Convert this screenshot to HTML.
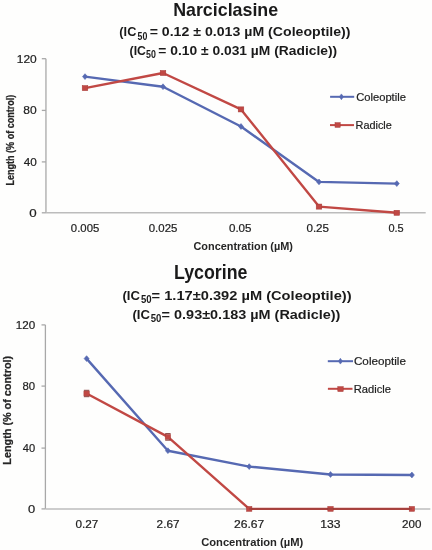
<!DOCTYPE html>
<html><head><meta charset="utf-8"><style>
html,body{margin:0;padding:0;background:#fefefd;}
svg{display:block;font-family:"Liberation Sans",sans-serif;will-change:transform;}
</style></head><body>
<svg width="432" height="550" viewBox="0 0 432 550">
<rect width="432" height="550" fill="#fefefd"/>
<text transform="translate(173.14,15.70) scale(0.9693,1)" font-size="18.41" font-weight="bold" fill="#1a1a1a">Narciclasine</text>
<text transform="translate(119.36,36.20) scale(0.9774,1)" font-size="13.04" font-weight="bold" fill="#1a1a1a">(IC</text>
<text transform="translate(137.49,39.50) scale(0.8676,1)" font-size="10.14" font-weight="bold" fill="#1a1a1a">50</text>
<text transform="translate(149.63,36.20) scale(1.0850,1)" font-size="13.04" font-weight="bold" fill="#1a1a1a">= 0.12 ± 0.013 µM (Coleoptile))</text>
<text transform="translate(129.59,54.60) scale(0.9203,1)" font-size="13.33" font-weight="bold" fill="#1a1a1a">(IC</text>
<text transform="translate(146.03,57.60) scale(0.8846,1)" font-size="10.00" font-weight="bold" fill="#1a1a1a">50</text>
<text transform="translate(158.35,54.60) scale(1.0372,1)" font-size="13.33" font-weight="bold" fill="#1a1a1a">= 0.10 ± 0.031 µM (Radicle))</text>
<line x1="45.95" y1="58.7" x2="45.95" y2="212.8" stroke="#a8a8a8" stroke-width="1.3"/>
<line x1="41.8" y1="58.7" x2="45.95" y2="58.7" stroke="#a8a8a8" stroke-width="1.3"/>
<line x1="41.8" y1="110.4" x2="45.95" y2="110.4" stroke="#a8a8a8" stroke-width="1.3"/>
<line x1="41.8" y1="161.9" x2="45.95" y2="161.9" stroke="#a8a8a8" stroke-width="1.3"/>
<line x1="41.8" y1="212.8" x2="45.95" y2="212.8" stroke="#a8a8a8" stroke-width="1.3"/>
<line x1="45.95" y1="212.8" x2="425.7" y2="212.8" stroke="#bcbcbc" stroke-width="1.5"/>
<text transform="translate(16.80,62.89) scale(1.1174,1)" font-size="10.70" font-weight="normal" fill="#222222" stroke="#222222" stroke-width="0.2">120</text>
<text transform="translate(23.36,114.39) scale(1.1247,1)" font-size="10.70" font-weight="normal" fill="#222222" stroke="#222222" stroke-width="0.2">80</text>
<text transform="translate(23.66,165.59) scale(1.0980,1)" font-size="10.70" font-weight="normal" fill="#222222" stroke="#222222" stroke-width="0.2">40</text>
<text transform="translate(29.37,217.09) scale(1.2456,1)" font-size="10.70" font-weight="normal" fill="#222222" stroke="#222222" stroke-width="0.2">0</text>
<text transform="translate(13.90,185.49) rotate(-90) scale(0.8915,1)" font-size="10.14" font-weight="bold" fill="#262626" stroke="#262626" stroke-width="0.25">Length (% of control)</text>
<text transform="translate(70.85,231.80) scale(1.0903,1)" font-size="10.42" font-weight="normal" fill="#222222" stroke="#222222" stroke-width="0.2">0.005</text>
<text transform="translate(148.74,231.80) scale(1.0982,1)" font-size="10.42" font-weight="normal" fill="#222222" stroke="#222222" stroke-width="0.2">0.025</text>
<text transform="translate(228.93,231.80) scale(1.1164,1)" font-size="10.42" font-weight="normal" fill="#222222" stroke="#222222" stroke-width="0.2">0.05</text>
<text transform="translate(306.43,231.80) scale(1.1164,1)" font-size="10.42" font-weight="normal" fill="#222222" stroke="#222222" stroke-width="0.2">0.25</text>
<text transform="translate(388.46,231.80) scale(1.0547,1)" font-size="10.42" font-weight="normal" fill="#222222" stroke="#222222" stroke-width="0.2">0.5</text>
<text transform="translate(193.46,249.70) scale(1.0185,1)" font-size="10.72" font-weight="bold" fill="#262626">Concentration (µM)</text>
<polyline points="85.0,76.6 163.0,86.7 241.0,126.5 319.0,181.9 396.8,183.6" fill="none" stroke="#5669b2" stroke-width="2.4" stroke-linejoin="round"/>
<polyline points="85.0,88.1 163.0,73.0 241.0,109.4 319.0,206.6 396.8,212.8" fill="none" stroke="#c14844" stroke-width="2.4" stroke-linejoin="round"/>
<path d="M82.50,76.60 L85.00,73.70 L87.50,76.60 L85.00,79.50Z" fill="#5669b2" stroke="#5669b2" stroke-width="0.6"/>
<path d="M160.50,86.70 L163.00,83.80 L165.50,86.70 L163.00,89.60Z" fill="#5669b2" stroke="#5669b2" stroke-width="0.6"/>
<path d="M238.50,126.50 L241.00,123.60 L243.50,126.50 L241.00,129.40Z" fill="#5669b2" stroke="#5669b2" stroke-width="0.6"/>
<path d="M316.50,181.90 L319.00,179.00 L321.50,181.90 L319.00,184.80Z" fill="#5669b2" stroke="#5669b2" stroke-width="0.6"/>
<path d="M394.30,183.60 L396.80,180.70 L399.30,183.60 L396.80,186.50Z" fill="#5669b2" stroke="#5669b2" stroke-width="0.6"/>
<rect x="82.20" y="85.55" width="5.60" height="5.10" fill="#c14844" stroke="#a63c38" stroke-width="0.5"/>
<rect x="160.20" y="70.45" width="5.60" height="5.10" fill="#c14844" stroke="#a63c38" stroke-width="0.5"/>
<rect x="238.20" y="106.85" width="5.60" height="5.10" fill="#c14844" stroke="#a63c38" stroke-width="0.5"/>
<rect x="316.20" y="204.05" width="5.60" height="5.10" fill="#c14844" stroke="#a63c38" stroke-width="0.5"/>
<rect x="394.00" y="210.25" width="5.60" height="5.10" fill="#c14844" stroke="#a63c38" stroke-width="0.5"/>
<line x1="330.1" y1="96.8" x2="354.2" y2="96.8" stroke="#5669b2" stroke-width="2.0"/>
<path d="M339.40,96.80 L341.40,93.90 L343.40,96.80 L341.40,99.70Z" fill="#5669b2" stroke="#5669b2" stroke-width="0.6"/>
<text transform="translate(356.14,100.90) scale(1.0460,1)" font-size="10.72" font-weight="normal" fill="#222222" stroke="#222222" stroke-width="0.2">Coleoptile</text>
<line x1="330.0" y1="125.1" x2="354.0" y2="125.1" stroke="#c14844" stroke-width="2.0"/>
<rect x="335.00" y="122.65" width="5.20" height="4.70" fill="#c14844" stroke="#a63c38" stroke-width="0.5"/>
<text transform="translate(355.53,129.10) scale(0.9899,1)" font-size="11.01" font-weight="normal" fill="#222222" stroke="#222222" stroke-width="0.2">Radicle</text>
<text transform="translate(174.05,279.40) scale(0.9081,1)" font-size="19.57" font-weight="bold" fill="#1a1a1a">Lycorine</text>
<text transform="translate(122.44,300.10) scale(0.9861,1)" font-size="13.33" font-weight="bold" fill="#1a1a1a">(IC</text>
<text transform="translate(140.91,303.39) scale(0.9103,1)" font-size="10.56" font-weight="bold" fill="#1a1a1a">50</text>
<text transform="translate(151.61,300.10) scale(1.0987,1)" font-size="13.33" font-weight="bold" fill="#1a1a1a">= 1.17±0.392 µM (Coleoptile))</text>
<text transform="translate(132.44,318.60) scale(0.9861,1)" font-size="13.33" font-weight="bold" fill="#1a1a1a">(IC</text>
<text transform="translate(150.71,321.80) scale(0.9615,1)" font-size="10.00" font-weight="bold" fill="#1a1a1a">50</text>
<text transform="translate(161.62,318.60) scale(1.0840,1)" font-size="13.33" font-weight="bold" fill="#1a1a1a">= 0.93±0.183 µM (Radicle))</text>
<line x1="45.4" y1="324.9" x2="45.4" y2="508.9" stroke="#a8a8a8" stroke-width="1.3"/>
<line x1="41.5" y1="324.9" x2="45.4" y2="324.9" stroke="#a8a8a8" stroke-width="1.3"/>
<line x1="41.5" y1="386.1" x2="45.4" y2="386.1" stroke="#a8a8a8" stroke-width="1.3"/>
<line x1="41.5" y1="448.1" x2="45.4" y2="448.1" stroke="#a8a8a8" stroke-width="1.3"/>
<line x1="41.5" y1="508.9" x2="45.4" y2="508.9" stroke="#a8a8a8" stroke-width="1.3"/>
<line x1="45.4" y1="508.9" x2="430.3" y2="508.9" stroke="#bcbcbc" stroke-width="1.5"/>
<text transform="translate(15.73,328.69) scale(1.0595,1)" font-size="10.99" font-weight="normal" fill="#222222" stroke="#222222" stroke-width="0.2">120</text>
<text transform="translate(22.49,389.89) scale(1.0340,1)" font-size="10.99" font-weight="normal" fill="#222222" stroke="#222222" stroke-width="0.2">80</text>
<text transform="translate(22.78,451.89) scale(1.0095,1)" font-size="10.99" font-weight="normal" fill="#222222" stroke="#222222" stroke-width="0.2">40</text>
<text transform="translate(27.98,512.69) scale(1.1757,1)" font-size="10.99" font-weight="normal" fill="#222222" stroke="#222222" stroke-width="0.2">0</text>
<text transform="translate(10.60,464.70) rotate(-90) scale(1.0112,1)" font-size="10.72" font-weight="bold" fill="#262626" stroke="#262626" stroke-width="0.25">Length (% of control)</text>
<text transform="translate(75.53,527.50) scale(1.1430,1)" font-size="10.28" font-weight="normal" fill="#222222" stroke="#222222" stroke-width="0.2">0.27</text>
<text transform="translate(156.61,527.50) scale(1.1439,1)" font-size="10.28" font-weight="normal" fill="#222222" stroke="#222222" stroke-width="0.2">2.67</text>
<text transform="translate(233.99,527.50) scale(1.1793,1)" font-size="10.28" font-weight="normal" fill="#222222" stroke="#222222" stroke-width="0.2">26.67</text>
<text transform="translate(320.19,527.50) scale(1.1797,1)" font-size="10.28" font-weight="normal" fill="#222222" stroke="#222222" stroke-width="0.2">133</text>
<text transform="translate(402.12,527.50) scale(1.1265,1)" font-size="10.28" font-weight="normal" fill="#222222" stroke="#222222" stroke-width="0.2">200</text>
<text transform="translate(201.15,545.60) scale(1.0304,1)" font-size="10.87" font-weight="bold" fill="#262626">Concentration (µM)</text>
<polyline points="86.6,358.6 167.9,450.7 249.2,466.6 330.5,474.5 411.9,475.0" fill="none" stroke="#5669b2" stroke-width="2.4" stroke-linejoin="round"/>
<polyline points="86.6,393.5 167.9,436.9 249.2,508.9 330.5,508.9 411.9,508.9" fill="none" stroke="#c14844" stroke-width="2.4" stroke-linejoin="round"/>
<path d="M84.10,358.60 L86.60,355.70 L89.10,358.60 L86.60,361.50Z" fill="#5669b2" stroke="#5669b2" stroke-width="0.6"/>
<path d="M165.40,450.70 L167.90,447.80 L170.40,450.70 L167.90,453.60Z" fill="#5669b2" stroke="#5669b2" stroke-width="0.6"/>
<path d="M246.70,466.60 L249.20,463.70 L251.70,466.60 L249.20,469.50Z" fill="#5669b2" stroke="#5669b2" stroke-width="0.6"/>
<path d="M328.00,474.50 L330.50,471.60 L333.00,474.50 L330.50,477.40Z" fill="#5669b2" stroke="#5669b2" stroke-width="0.6"/>
<path d="M409.40,475.00 L411.90,472.10 L414.40,475.00 L411.90,477.90Z" fill="#5669b2" stroke="#5669b2" stroke-width="0.6"/>
<rect x="83.90" y="391.05" width="5.40" height="4.90" fill="#c14844" stroke="#a63c38" stroke-width="0.5"/>
<rect x="165.20" y="434.45" width="5.40" height="4.90" fill="#c14844" stroke="#a63c38" stroke-width="0.5"/>
<rect x="246.50" y="506.45" width="5.40" height="4.90" fill="#c14844" stroke="#a63c38" stroke-width="0.5"/>
<rect x="327.80" y="506.45" width="5.40" height="4.90" fill="#c14844" stroke="#a63c38" stroke-width="0.5"/>
<rect x="409.20" y="506.45" width="5.40" height="4.90" fill="#c14844" stroke="#a63c38" stroke-width="0.5"/>
<line x1="249.2" y1="508.9" x2="411.9" y2="508.9" stroke="#5a3030" stroke-opacity="0.28" stroke-width="1.6"/>
<line x1="83.89999999999999" y1="390.3" x2="89.3" y2="390.3" stroke="#7a2a28" stroke-width="0.9"/>
<line x1="83.89999999999999" y1="396.7" x2="89.3" y2="396.7" stroke="#7a2a28" stroke-width="0.9"/>
<line x1="165.20000000000002" y1="433.59999999999997" x2="170.6" y2="433.59999999999997" stroke="#7a2a28" stroke-width="0.9"/>
<line x1="165.20000000000002" y1="440.2" x2="170.6" y2="440.2" stroke="#7a2a28" stroke-width="0.9"/>
<line x1="327.8" y1="361.2" x2="353.0" y2="361.2" stroke="#5669b2" stroke-width="2.0"/>
<path d="M338.40,361.20 L340.40,358.30 L342.40,361.20 L340.40,364.10Z" fill="#5669b2" stroke="#5669b2" stroke-width="0.6"/>
<text transform="translate(353.91,365.20) scale(1.0644,1)" font-size="11.01" font-weight="normal" fill="#222222" stroke="#222222" stroke-width="0.2">Coleoptile</text>
<line x1="327.9" y1="388.8" x2="352.5" y2="388.8" stroke="#c14844" stroke-width="2.0"/>
<rect x="337.80" y="386.65" width="5.40" height="4.90" fill="#c14844" stroke="#a63c38" stroke-width="0.5"/>
<text transform="translate(353.81,392.70) scale(1.0154,1)" font-size="11.01" font-weight="normal" fill="#222222" stroke="#222222" stroke-width="0.2">Radicle</text>
</svg>
</body></html>
